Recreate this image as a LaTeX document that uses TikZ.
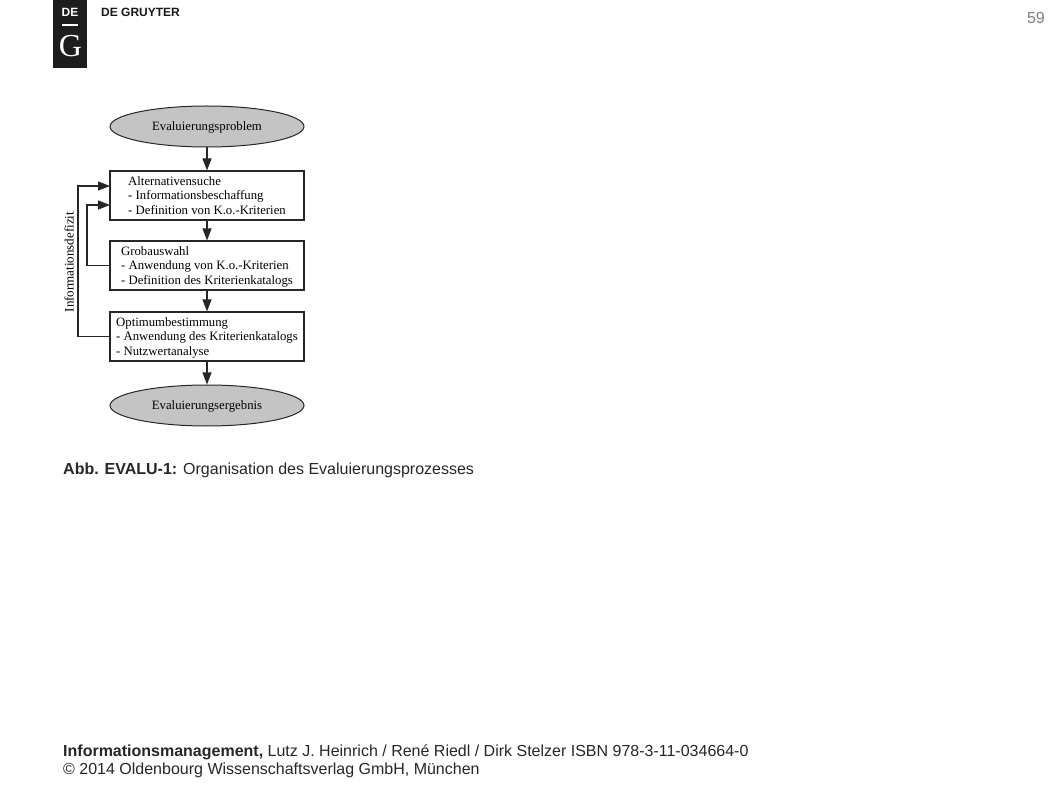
\documentclass[tikz,border=0pt]{standalone}
\usepackage{fontspec}
\setmainfont{Liberation Serif}
\newfontfamily\arialfont{Liberation Sans}
\usetikzlibrary{shapes.geometric,arrows.meta}
\definecolor{ellgray}{RGB}{196,196,196}
\definecolor{pagegray}{RGB}{128,128,128}
\definecolor{logoblack}{RGB}{30,28,28}
\tikzset{
  endnode/.style={draw=black!85,fill=ellgray,ellipse,line width=1pt,minimum width=194pt,minimum height=41pt,inner sep=0pt,text depth=0pt,font=\fontsize{12.75}{14}\selectfont},
  boxnode/.style={draw=black!85,fill=white,rectangle,line width=1.1pt,minimum width=194pt,minimum height=49pt,inner sep=0pt,text depth=0pt,align=left,font=\fontsize{12.75}{14.5}\selectfont},
  flow/.style={-{Triangle[length=12pt,width=9pt]},line width=1.1pt,black!85},
  pagetext/.style={inner sep=0pt,anchor=base west,font=\arialfont\fontsize{16}{18}\selectfont,text=black!85}
}
\begin{document}
\begin{tikzpicture}[x=1pt,y=-1pt]
  \useasboundingbox (0,0) rectangle (1058,794);
  % logo
  \node (logo) [fill=logoblack,minimum width=34pt,minimum height=68pt,inner sep=0pt] at (70,34) {};
  \node (logode) [inner sep=0pt,text=white,font=\arialfont\bfseries\fontsize{12}{13}\selectfont] at (70,12.5) {DE};
  \coordinate (barleft) at (62,25);
  \coordinate (barright) at (78,25);
  \draw[white,line width=1.2pt] (barleft) -- (barright);
  \node (logog) [inner sep=0pt,text=white,font=\fontsize{32}{33}\selectfont] at (70.5,46) {G};
  \node (brand) [inner sep=0pt,anchor=west,font=\arialfont\bfseries\fontsize{12}{13}\selectfont,text=black!90] at (101,12.5) {DE GRUYTER};
  \node (pageno) [inner sep=0pt,anchor=base east,font=\arialfont\fontsize{16}{18}\selectfont,text=pagegray] at (1045,24) {59};
  % diagram
  \node (problem) [endnode] at (207,126.5) {Evaluierungsproblem};
  \node (search) [boxnode] at (207,195.5) {Alternativensuche\\- Informationsbeschaffung\\- Definition von K.o.-Kriterien};
  \node (coarse) [boxnode] at (207,265.5) {Grobauswahl\\- Anwendung von K.o.-Kriterien\\- Definition des Kriterienkatalogs};
  \node (optimum) [boxnode] at (207,336.5) {Optimumbestimmung\\- Anwendung des Kriterienkatalogs\\- Nutzwertanalyse};
  \node (result) [endnode] at (207,405.5) {Evaluierungsergebnis};
  \node (deficit) [rotate=90,inner sep=0pt,font=\fontsize{13}{14}\selectfont] at (69,262) {Informationsdefizit};
  \coordinate (inupper) at (110,186);
  \coordinate (inlower) at (110,205);
  \coordinate (outupper) at (78,336.5);
  \coordinate (outlower) at (87,265.5);
  \draw[flow] (problem) -- (search);
  \draw[flow] (search) -- (coarse);
  \draw[flow] (coarse) -- (optimum);
  \draw[flow] (optimum) -- (result);
  \draw[flow] (coarse.west) -- (outlower) |- (inlower);
  \draw[flow] (optimum.west) -- (outupper) |- (inupper);
  % caption and footer
  \node (caption) [pagetext] at (63,474.5) {\textbf{Abb. EVALU-1:} Organisation des Evaluierungsprozesses};
  \node (footone) [pagetext] at (63,756.5) {\textbf{Informationsmanagement,} Lutz J. Heinrich / René Riedl / Dirk Stelzer ISBN 978-3-11-034664-0};
  \node (foottwo) [pagetext] at (63,774.5) {© 2014 Oldenbourg Wissenschaftsverlag GmbH, München};
\end{tikzpicture}
\end{document}
